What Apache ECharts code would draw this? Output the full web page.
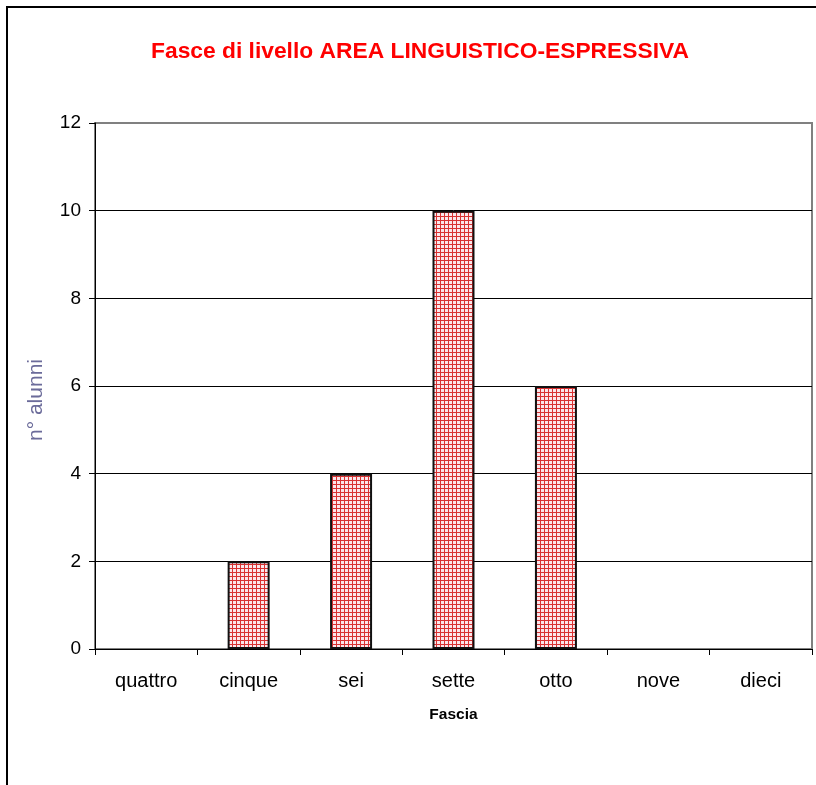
<!DOCTYPE html>
<html>
<head>
<meta charset="utf-8">
<script src="https://cdn.jsdelivr.net/npm/echarts@6/dist/echarts.min.js"></script>
<style>
  html, body { margin: 0; padding: 0; background: #fff; }
</style>
</head>
<body>
<div id="main" style="width: 816px;height:785px;"></div>
<script>
var categories = ["quattro", "cinque", "sei", "sette", "otto", "nove", "dieci"];
var alunni = [0, 2, 4, 10, 6, 0, 0];
var yTicks = [0, 2, 4, 6, 8, 10, 12];

// motivo a quadretti rossi per le barre
function makePattern() {
  var c = document.createElement("canvas");
  c.width = 4;
  c.height = 4;
  var ctx = c.getContext("2d");
  ctx.fillStyle = "#fbe6ea";
  ctx.fillRect(0, 0, 4, 4);
  ctx.fillStyle = "#d83232";
  ctx.fillRect(0, 0, 4, 1);
  ctx.fillRect(0, 0, 1, 4);
  return c;
}

var myChart = echarts.init(document.getElementById("main"));
myChart.setOption({
  animation: false,
  backgroundColor: "#fff",
  textStyle: { fontFamily: "Liberation Sans, Arial, sans-serif" },
  title: {
    text: "Fasce di livello AREA LINGUISTICO-ESPRESSIVA",
    left: 415,
    top: 35,
    textAlign: "center",
    textStyle: { color: "#ff0000", fontSize: 22.8, fontWeight: "bold", fontFamily: "Liberation Sans, Arial, sans-serif" },
  },
  graphic: [
    {
      type: "rect",
      shape: { x: 7, y: 7, width: 900, height: 900 },
      style: { fill: null, stroke: "#000", lineWidth: 2 },
      silent: true,
    },
    {
      // titolo asse verticale
      type: "text",
      x: 36,
      y: 400,
      rotation: Math.PI / 2,
      style: {
        text: "n° alunni",
        fill: "#6b6b9a",
        fontSize: 21,
        fontFamily: "Liberation Sans, Arial, sans-serif",
        align: "center",
        verticalAlign: "middle",
      },
      silent: true,
    },
  ],
  grid: {
    left: 95,
    top: 123,
    right: 4,
    bottom: 136,
    show: true,
    borderColor: "#808080",
    borderWidth: 2,
  },
  xAxis: {
    type: "category",
    data: categories,
    name: "Fascia",
    nameLocation: "middle",
    nameGap: 58,
    nameTextStyle: { fontSize: 15.5, fontWeight: "bold", color: "#000" },
    axisLine: { lineStyle: { color: "#000", width: 1 } },
    axisTick: { show: true, length: 6, lineStyle: { color: "#000" } },
    axisLabel: { color: "#000", fontSize: 20, margin: 22 },
  },
  yAxis: {
    type: "value",
    min: 0,
    max: 12,
    interval: 2,
    axisLine: { show: true, lineStyle: { color: "#000", width: 1 } },
    axisTick: { show: true, length: 6, lineStyle: { color: "#000" } },
    axisLabel: {
      color: "#000",
      fontSize: 19,
      margin: 14,
      formatter: function (v) {
        return yTicks.indexOf(v) >= 0 ? String(v) : "";
      },
    },
    splitLine: {
      lineStyle: {
        color: ["#000", "#000", "#000", "#000", "#000", "#000", "#808080"],
        width: 1,
      },
    },
  },
  series: [
    {
      type: "bar",
      data: alunni.map(function (v) { return v === 0 ? "-" : v; }),
      barWidth: "41%",
      itemStyle: {
        color: { image: makePattern(), repeat: "repeat" },
        borderColor: "#111",
        borderWidth: 2,
      },
    },
  ],
});
</script>
</body>
</html>
